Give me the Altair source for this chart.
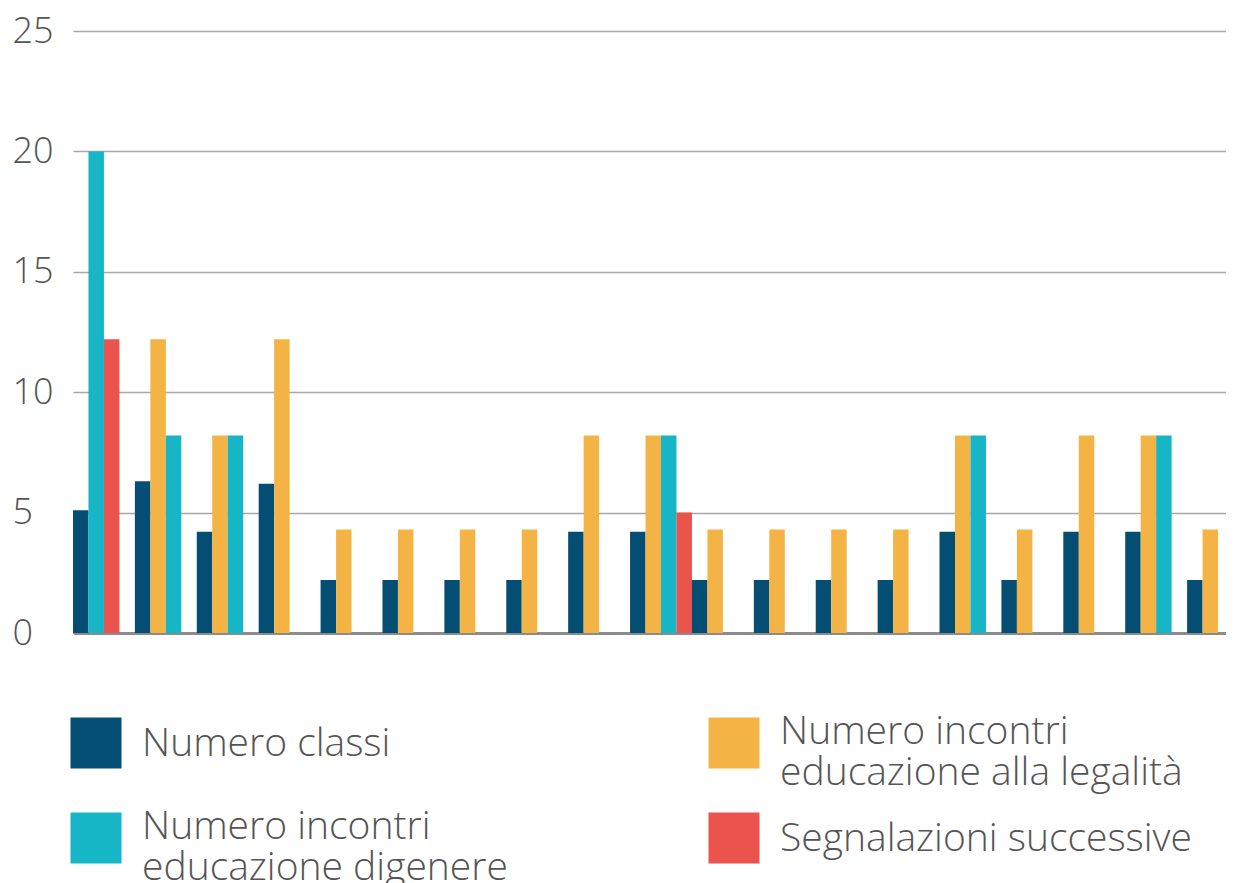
import altair as alt
import pandas as pd

# ---- data ----
gruppi = [f"G{i + 1}" for i in range(19)]
serie = [
    "Numero classi",
    "Numero incontri educazione alla legalità",
    "Numero incontri educazione digenere",
    "Segnalazioni successive",
]
colori = ["#044E73", "#F4B445", "#16B6C6", "#EB534D"]

numero_classi = [5.1, 6.3, 4.2, 6.2, 2.2, 2.2, 2.2, 2.2, 4.2, 4.2,
                 2.2, 2.2, 2.2, 2.2, 4.2, 2.2, 4.2, 4.2, 2.2]
incontri_legalita = [None, 12.2, 8.2, 12.2, 4.3, 4.3, 4.3, 4.3, 8.2, 8.2,
                     4.3, 4.3, 4.3, 4.3, 8.2, 4.3, 8.2, 8.2, 4.3]
incontri_genere = [20.0, 8.2, 8.2, None, None, None, None, None, None, 8.2,
                   None, None, None, None, 8.2, None, None, 8.2, None]
segnalazioni = [12.2, None, None, None, None, None, None, None, None, 5.0,
                None, None, None, None, None, None, None, None, None]

tick_values = [0, 5, 10, 15, 20, 25]

legend_labels = [
    "Numero classi",
    "Numero incontri|educazione digenere",
    "Numero incontri|educazione alla legalità",
    "Segnalazioni successive",
]
legend_series = [serie[0], serie[2], serie[1], serie[3]]
legend_col = [0, 0, 1, 1]
legend_row = [0, 1, 0, 1]

# ---- build table ----
series_values = [numero_classi, incontri_legalita, incontri_genere, segnalazioni]
rows = []
for gi, g in enumerate(gruppi):
    slot = 0
    for s, vals in zip(serie, series_values):
        v = vals[gi]
        if v is not None:
            rows.append({"gruppo": g, "serie": s, "valore": v, "slot": slot})
            slot += 1
df = pd.DataFrame(rows)

leg_df = pd.DataFrame({
    "serie": legend_series,
    "etichetta": legend_labels,
    "col": legend_col,
    "row": legend_row,
})

FONT = "Open Sans"
TEXT_COLOR = "#555555"
W = 1161

color_scale = alt.Scale(domain=serie, range=colori)

bars = alt.Chart(df).mark_bar().encode(
    x=alt.X("gruppo:N", sort=gruppi,
            scale=alt.Scale(range=[8, 1184], paddingInner=0, paddingOuter=0),
            axis=None),
    xOffset=alt.XOffset("slot:O",
                        scale=alt.Scale(domain=[0, 1, 2, 3], paddingInner=0, paddingOuter=0)),
    y=alt.Y("valore:Q",
            scale=alt.Scale(domain=[0, 25], nice=False),
            axis=alt.Axis(
                values=tick_values, title=None, domain=False, ticks=False,
                labelAlign="left", labelBaseline="middle", labelPadding=53,
                labelFontSize=36, labelFont=FONT, labelFontWeight=300,
                labelColor=TEXT_COLOR,
                grid=True,
                gridColor={"condition": {"test": "datum.value === 0", "value": "#8C8C8C"},
                           "value": "#A8A8A8"},
                gridWidth={"condition": {"test": "datum.value === 0", "value": 3},
                           "value": 1.5},
            )),
    color=alt.Color("serie:N", scale=color_scale, legend=None),
).properties(width=W, height=602)

leg_base = alt.Chart(leg_df).transform_calculate(
    linee="split(datum.etichetta, '|')",
    n="length(split(datum.etichetta, '|'))",
)

lx = alt.X("col:Q", scale=alt.Scale(domain=[0, 1], range=[31, 669]), axis=None)
ly = alt.Y("row:Q", scale=alt.Scale(domain=[0, 1], range=[70, 165]), axis=None)

swatch = leg_base.mark_square(size=2601, opacity=1).encode(
    x=lx, y=ly, color=alt.Color("serie:N", scale=color_scale, legend=None)
)
text_one = leg_base.transform_filter("datum.n == 1").mark_text(
    align="left", baseline="middle", dx=46, dy=1, fontSize=39, font=FONT,
    fontWeight=300, color=TEXT_COLOR, clip=True
).encode(x=lx, y=ly, text="linee:N")
text_two = leg_base.transform_filter("datum.n > 1").mark_text(
    align="left", baseline="middle", dx=46, dy=-11, lineHeight=41, fontSize=39,
    font=FONT, fontWeight=300, color=TEXT_COLOR, clip=True
).encode(x=lx, y=ly, text="linee:N")

legend = alt.layer(swatch, text_one, text_two).properties(width=W, height=210)

chart = alt.vconcat(bars, legend, spacing=22).properties(
    padding={"left": 4, "top": 5, "right": 0, "bottom": 0}
).configure_view(stroke=None)

chart.save("out.html", embed_options={"renderer": "svg", "actions": False})
